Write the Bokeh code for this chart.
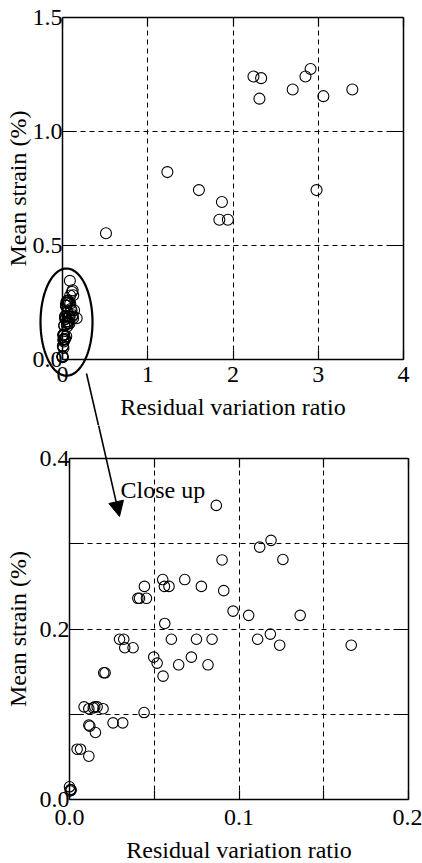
import numpy as np
from bokeh.plotting import figure
from bokeh.layouts import column
from bokeh.models import (FixedTicker, LinearAxis, PrintfTickFormatter, Range1d, Grid,
                          PolyAnnotation, Arrow, NormalHead, Label)
from bokeh.embed import file_html
from bokeh.resources import INLINE

# ---------------- data ----------------
# points that only appear in the full-range (upper) plot
wide_ratio = [2.24, 2.33, 2.31, 2.70, 2.85, 2.91, 3.06, 3.40, 1.23, 1.60, 1.87, 1.84, 1.94, 2.98, 0.51]
wide_strain = [1.241, 1.234, 1.144, 1.184, 1.241, 1.274, 1.155, 1.184, 0.822, 0.743, 0.691, 0.613, 0.613, 0.743, 0.554]

# points of the close-up (lower) plot, also drawn in the upper plot
close_ratio = [0.0866, 0.1189, 0.1122, 0.1259, 0.0900, 0.0550, 0.0680, 0.0442, 0.0560, 0.0587,
               0.0778, 0.0910, 0.0403, 0.0413, 0.0454, 0.0965, 0.1057, 0.1361, 0.0562, 0.0295,
               0.0320, 0.0601, 0.0749, 0.0841, 0.1110, 0.1185, 0.1240, 0.1662, 0.0326, 0.0375,
               0.0497, 0.0517, 0.0719, 0.0644, 0.0817, 0.0552, 0.0202, 0.0210, 0.0086, 0.0114,
               0.0149, 0.0163, 0.0198, 0.0140, 0.0440, 0.0114, 0.0120, 0.0257, 0.0314, 0.0153,
               0.0045, 0.0065, 0.0114, 0.0000, 0.0006, 0.0010, 0.0004]
close_strain = [0.345, 0.304, 0.296, 0.2815, 0.281, 0.258, 0.258, 0.250, 0.250, 0.250,
                0.250, 0.245, 0.236, 0.236, 0.236, 0.221, 0.216, 0.216, 0.2065, 0.188,
                0.188, 0.188, 0.188, 0.188, 0.188, 0.194, 0.181, 0.181, 0.178, 0.178,
                0.167, 0.160, 0.167, 0.158, 0.158, 0.1447, 0.1486, 0.1486, 0.1087, 0.1065,
                0.1087, 0.1087, 0.1065, 0.1075, 0.102, 0.0872, 0.0860, 0.0899, 0.0899, 0.0786,
                0.059, 0.059, 0.0508, 0.0149, 0.0117, 0.0110, 0.0100]

top_x_lim = (0, 4)
top_y_lim = (0, 1.5)
top_x_ticks = [0, 1, 2, 3, 4]
top_y_ticks = [0.0, 0.5, 1.0, 1.5]
top_x_grid = [1, 2, 3]
top_y_grid = [0.5, 1.0]

bot_x_lim = (0, 0.2)
bot_y_lim = (0, 0.4)
bot_x_ticks = [0.0, 0.1, 0.2]
bot_x_minor = [0.05, 0.15]
bot_y_ticks = [0.0, 0.2, 0.4]
bot_y_minor = [0.1, 0.3]
bot_x_grid = [0.05, 0.1, 0.15]
bot_y_grid = [0.1, 0.2, 0.3]

x_label = "Residual variation ratio"
y_label = "Mean strain (%)"
note_text = "Close up"

FONT = "Liberation Serif"
TICK_FS = "24px"
LABEL_FS = "24px"
HAS_CROSS_BOUNDS = "cross_bounds" in Grid.properties()


def style_axis(ax, tick_len, labels=True):
    ax.axis_line_color = "black"
    ax.axis_line_width = 1.5
    ax.major_tick_in = tick_len
    ax.major_tick_out = 0
    ax.minor_tick_in = tick_len
    ax.minor_tick_out = 0
    ax.major_tick_line_color = "black"
    ax.minor_tick_line_color = "black"
    ax.major_tick_line_width = 1.2
    ax.minor_tick_line_width = 1.2
    ax.major_label_text_font = FONT
    ax.major_label_text_font_size = TICK_FS
    ax.axis_label_text_font = FONT
    ax.axis_label_text_font_style = "normal"
    ax.axis_label_text_font_size = LABEL_FS
    ax.axis_label_text_color = "black"
    if labels:
        ax.major_label_text_color = "black"
    else:
        ax.major_label_text_color = None
        ax.major_label_text_alpha = 0


def make_plot(w, h, frame_px, xlim, ylim, xt, xm, yt, ym, xfmt, yfmt, xg, yg,
              xstand, ystand, xlab_stand, ylab_stand):
    # frame_px: (left, right, top, bottom) pixel edges of the drawn box inside the canvas
    fl, fr, ft, fb = frame_px
    xs = (fr - fl) / (xlim[1] - xlim[0])
    ys = (fb - ft) / (ylim[1] - ylim[0])
    xr = Range1d(xlim[0] - fl / xs, xlim[1] + (w - fr) / xs)
    yr = Range1d(ylim[0] - (h - fb) / ys, ylim[1] + ft / ys)
    p = figure(width=w, height=h, x_range=xr, y_range=yr,
               x_axis_type=None, y_axis_type=None,
               min_border_left=0, min_border_right=0, min_border_top=0, min_border_bottom=0,
               output_backend="svg", toolbar_location=None)
    p.background_fill_color = "white"
    p.border_fill_color = "white"
    p.outline_line_color = None

    xa = LinearAxis(fixed_location=ylim[0], bounds=xlim, axis_label=x_label,
                    ticker=FixedTicker(ticks=xt, minor_ticks=xm),
                    formatter=PrintfTickFormatter(format=xfmt))
    ya = LinearAxis(fixed_location=xlim[0], bounds=ylim, axis_label=y_label,
                    ticker=FixedTicker(ticks=yt, minor_ticks=ym),
                    formatter=PrintfTickFormatter(format=yfmt))
    style_axis(xa, 9)
    style_axis(ya, 14)
    xa.major_label_standoff = xstand
    ya.major_label_standoff = ystand
    xa.axis_label_standoff = xlab_stand
    ya.axis_label_standoff = ylab_stand
    p.add_layout(xa, "below")
    p.add_layout(ya, "left")

    ta = LinearAxis(fixed_location=ylim[1], bounds=xlim,
                    ticker=FixedTicker(ticks=xt, minor_ticks=xm))
    ra = LinearAxis(fixed_location=xlim[1], bounds=ylim,
                    ticker=FixedTicker(ticks=yt, minor_ticks=ym))
    style_axis(ta, 9, labels=False)
    style_axis(ra, 14, labels=False)
    p.add_layout(ta, "above")
    p.add_layout(ra, "right")

    dash = dict(line_color="black", line_width=1, line_dash="5 4")
    if HAS_CROSS_BOUNDS:
        gx = Grid(dimension=0, ticker=FixedTicker(ticks=xg), bounds=xlim, cross_bounds=ylim,
                  grid_line_color="black", grid_line_width=1, grid_line_dash="5 4")
        gy = Grid(dimension=1, ticker=FixedTicker(ticks=yg), bounds=ylim, cross_bounds=xlim,
                  grid_line_color="black", grid_line_width=1, grid_line_dash="5 4")
        p.add_layout(gx)
        p.add_layout(gy)
    else:
        p.segment(x0=xg, y0=[ylim[0]] * len(xg), x1=xg, y1=[ylim[1]] * len(xg),
                  level="underlay", **dash)
        p.segment(x0=[xlim[0]] * len(yg), y0=yg, x1=[xlim[1]] * len(yg), y1=yg,
                  level="underlay", **dash)
    return p


# ---------------- upper plot ----------------
top = make_plot(422, 425, (62, 403, 17, 359), top_x_lim, top_y_lim,
                top_x_ticks, [], top_y_ticks, [], "%d", "%.1f", top_x_grid, top_y_grid,
                7, 0, 9, -1)
top.scatter(wide_ratio + close_ratio, wide_strain + close_strain, size=11,
            marker="circle", fill_color=None, line_color="black", line_width=1.1)

# ellipse around the cluster
ell_cx, ell_cy, ell_a, ell_b = 0.047, 0.164, 0.305, 0.235
t = np.linspace(0, 2 * np.pi, 120)
top.add_layout(PolyAnnotation(xs=list(ell_cx + ell_a * np.cos(t)),
                              ys=list(ell_cy + ell_b * np.sin(t)),
                              fill_alpha=0, line_color="black", line_alpha=1, line_width=2.2))
top.add_layout(Arrow(end=None, x_start=0.2815, y_start=-0.0614, x_end=0.4277, y_end=-0.298,
                     line_color="black", line_width=1.6))

# ---------------- lower plot ----------------
bot = make_plot(422, 438, (69, 408, 33, 374), bot_x_lim, bot_y_lim,
                bot_x_ticks, bot_x_minor, bot_y_ticks, bot_y_minor, "%.1f", "%.1f",
                bot_x_grid, bot_y_grid, 10, 0, 9, 6)
bot.scatter(close_ratio, close_strain, size=10.5, marker="circle", fill_color=None,
            line_color="black", line_width=1.1)
bot.add_layout(Arrow(end=NormalHead(size=15, fill_color="black", line_color="black"),
                     x_start=0.0168, y_start=0.442, x_end=0.0295, y_end=0.332,
                     line_color="black", line_width=1.6))
bot.add_layout(Label(x=0.0301, y=0.3636, text=note_text, text_font=FONT,
                     text_font_size=LABEL_FS, text_baseline="alphabetic", text_color="black"))

layout = column(top, bot, spacing=0)
open("out.html", "w").write(file_html(layout, INLINE))
